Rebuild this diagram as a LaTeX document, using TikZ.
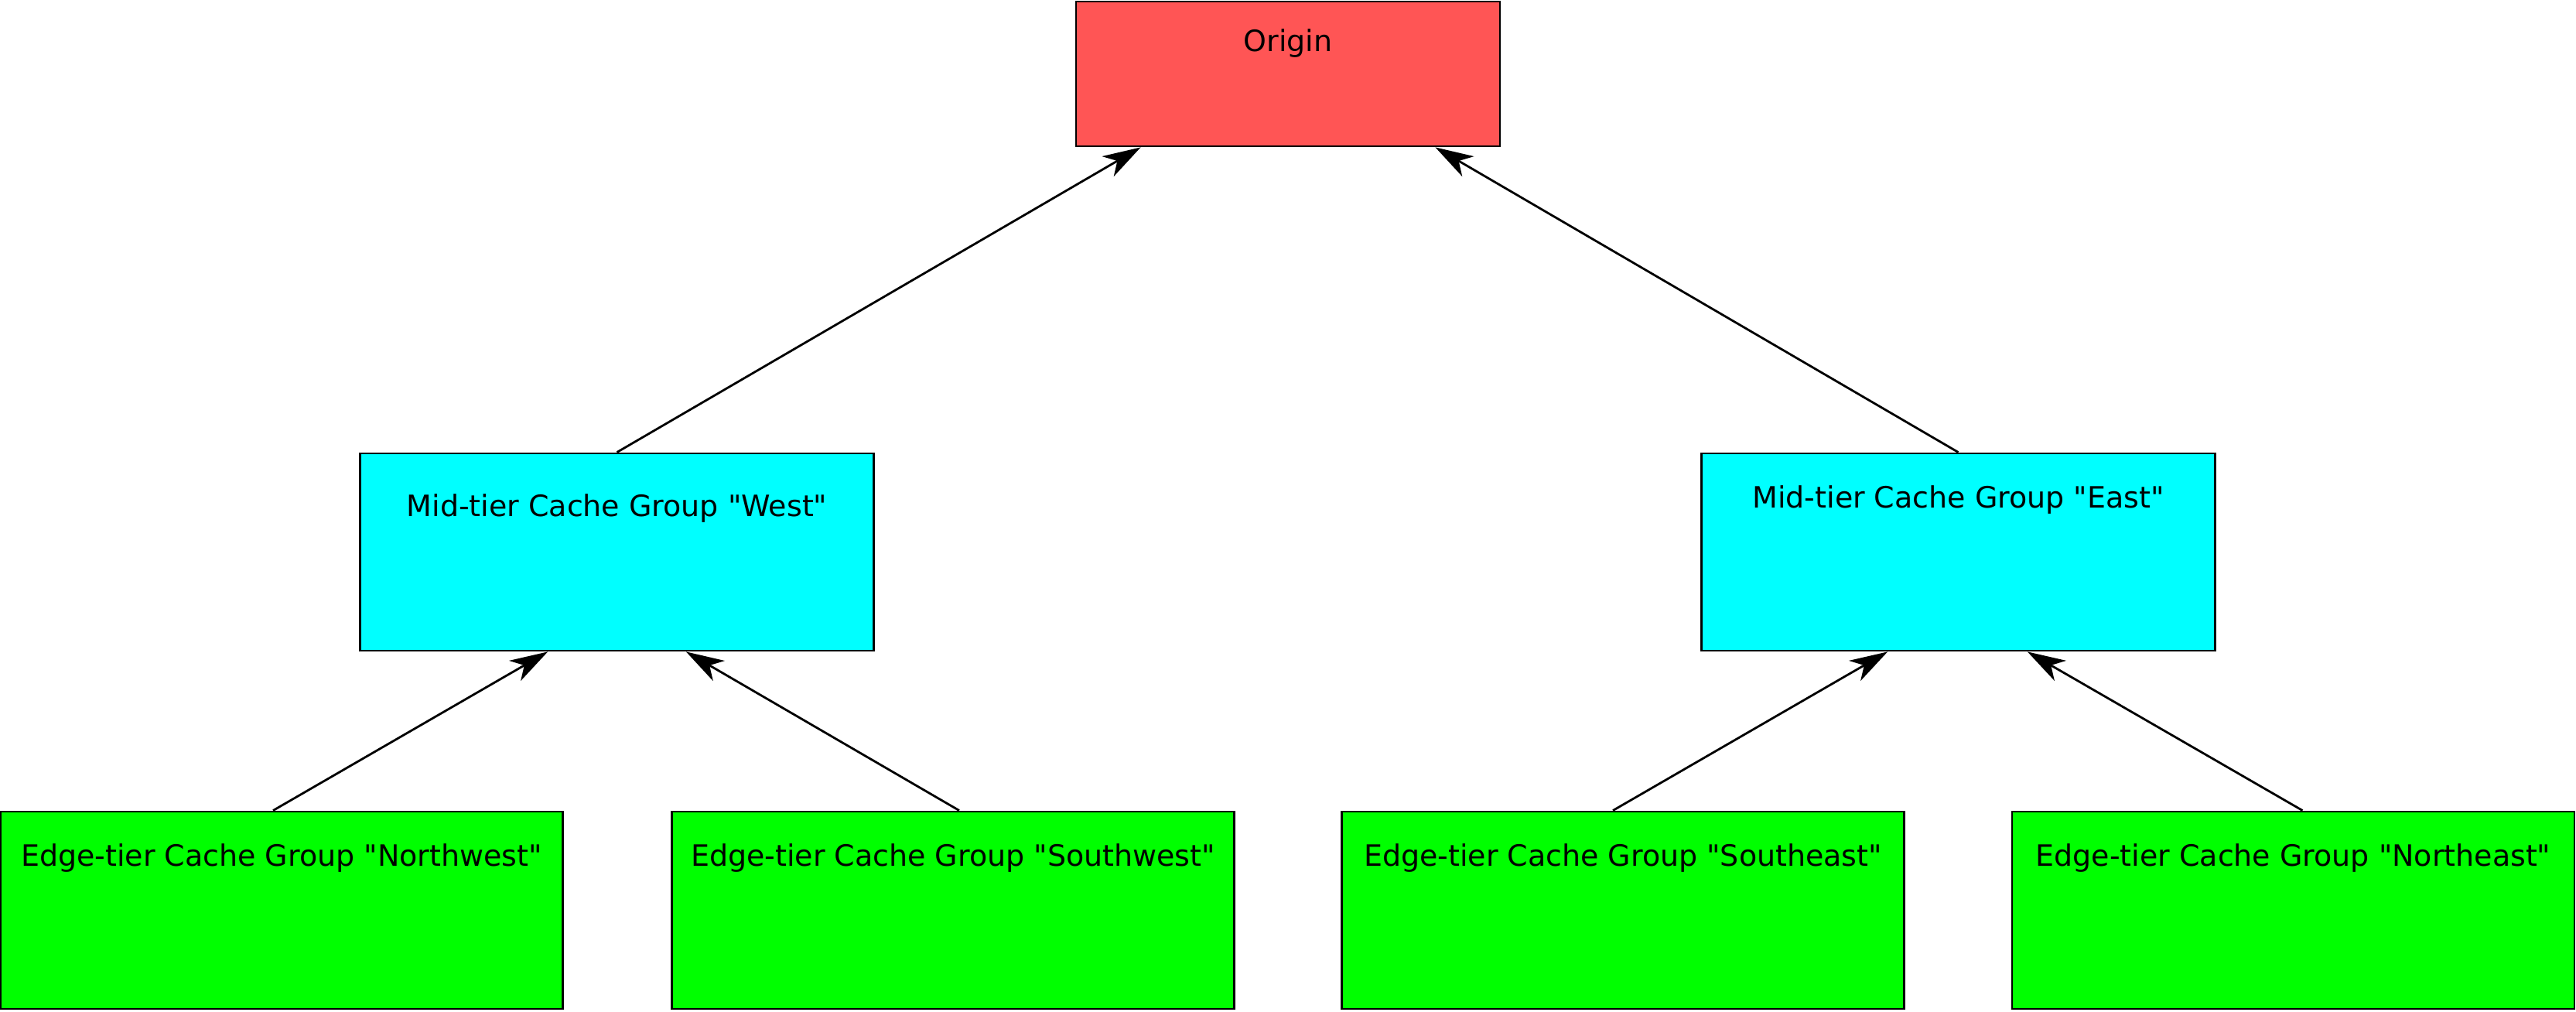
\documentclass[tikz,border=0pt]{standalone}
\usepackage{fontspec}
\setmainfont{DejaVu Sans}
\usetikzlibrary{arrows.meta, positioning}

\definecolor{originred}{HTML}{FF5555}
\definecolor{midcyan}{HTML}{00FFFF}
\definecolor{edgegreen}{HTML}{00FF00}

\begin{document}
\begin{tikzpicture}[
    box/.style={draw, line width=0.8pt, rectangle, inner sep=0pt},
    originbox/.style={box, fill=originred, minimum width=5.48cm, minimum height=1.87cm},
    midbox/.style={box, fill=midcyan, minimum width=6.64cm, minimum height=2.55cm},
    edgebox/.style={box, fill=edgegreen, minimum width=7.27cm, minimum height=2.55cm},
    boxtext/.style={anchor=base, yshift=-#1, font=\fontsize{10.8pt}{13pt}\selectfont},
    feed/.style={line width=0.8pt, -{Stealth[length=0.49cm, width=0.3cm, inset=0.14cm]}}
]
                % Fix the page to the reference size
                \useasboundingbox (0,0) rectangle (33.3,13.07);

                % Top: the origin
                \node[originbox, label={[boxtext=0.66cm]north:Origin}] (origin) at (16.65,12.115) {};

                % Middle tier
                \node[midbox, label={[boxtext=0.83cm]north:Mid-tier Cache Group \textquotedbl West\textquotedbl}] (west) at (7.975,5.935) {};
                \node[midbox, label={[boxtext=0.72cm]north:Mid-tier Cache Group \textquotedbl East\textquotedbl}] (east) at (25.315,5.935) {};

                % Edge tier
                \node[edgebox, label={[boxtext=0.72cm]north:Edge-tier Cache Group \textquotedbl Northwest\textquotedbl}] (northwest) at (3.64,1.305) {};
                \node[edgebox, label={[boxtext=0.72cm]north:Edge-tier Cache Group \textquotedbl Southwest\textquotedbl}] (southwest) at (12.32,1.305) {};
                \node[edgebox, label={[boxtext=0.72cm]north:Edge-tier Cache Group \textquotedbl Southeast\textquotedbl}] (southeast) at (20.98,1.305) {};
                \node[edgebox, label={[boxtext=0.72cm]north:Edge-tier Cache Group \textquotedbl Northeast\textquotedbl}] (northeast) at (29.645,1.305) {};

                % Arrows up the tree
                \draw[feed] (west.north) -- ([xshift=0.85cm]origin.south west);
                \draw[feed] (east.north) -- ([xshift=-0.85cm]origin.south east);
                \draw[feed] ([xshift=-0.11cm]northwest.north) -- ([xshift=2.44cm]west.south west);
                \draw[feed] ([xshift=0.08cm]southwest.north) -- ([xshift=-2.44cm]west.south east);
                \draw[feed] ([xshift=-0.13cm]southeast.north) -- ([xshift=2.42cm]east.south west);
                \draw[feed] ([xshift=0.12cm]northeast.north) -- ([xshift=-2.44cm]east.south east);
            \end{tikzpicture}
\end{document}
